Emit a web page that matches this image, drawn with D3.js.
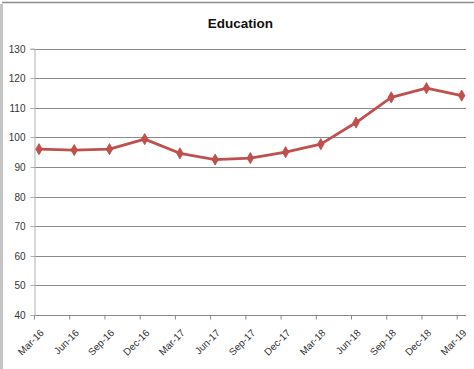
<!DOCTYPE html>
<html><head><meta charset="utf-8">
<script src="https://cdn.jsdelivr.net/npm/d3@7/dist/d3.min.js"></script>
<style>body{margin:0;background:#fff}svg{display:block}</style>
</head><body>
<svg id="c" width="474" height="369"></svg>
<script>
const categories = ["Mar-16","Jun-16","Sep-16","Dec-16","Mar-17","Jun-17","Sep-17","Dec-17","Mar-18","Jun-18","Sep-18","Dec-18","Mar-19"];
const values = [96.0, 95.7, 96.0, 99.4, 94.6, 92.5, 93.0, 95.0, 97.7, 105.0, 113.5, 116.6, 114.1];
const yTicks = [40,50,60,70,80,90,100,110,120,130];
const title = "Education";

const svg = d3.select("#c");
const font = "'Liberation Sans', Arial, sans-serif";

// frame
svg.append("rect").attr("x",0).attr("y",4).attr("width",3).attr("height",365).attr("fill","#c4c4c4");
svg.append("line").attr("x1",2).attr("x2",474).attr("y1",2.5).attr("y2",2.5).attr("stroke","#8c8c8c").attr("stroke-width",1.5);

const x = d3.scalePoint().domain(categories).range([39, 461.7]);
const y = d3.scaleLinear().domain([40,130]).range([315, 48.5]);
const left = 34, right = 466;

// gridlines
svg.append("g").selectAll("line").data(yTicks).join("line")
  .attr("x1", left).attr("x2", right)
  .attr("y1", d => Math.round(y(d))+0.5).attr("y2", d => Math.round(y(d))+0.5)
  .attr("stroke", "#8a8a8a").attr("stroke-width", 1);

// y axis
const yAxis = svg.append("g").attr("transform", `translate(${left+0.5},0)`)
  .call(d3.axisLeft(y).tickValues(yTicks).tickSize(4).tickPadding(5).tickFormat(d3.format("d")));
yAxis.select(".domain").attr("stroke","#b0b0b0");
yAxis.selectAll(".tick line").attr("stroke","#b0b0b0");
yAxis.selectAll(".tick").attr("transform", d => `translate(0,${Math.round(y(d))+0.5})`);
yAxis.selectAll("text").attr("font-family", font).attr("font-size", 10).attr("fill","#333");

// x axis
const xAxis = svg.append("g").attr("transform", `translate(-5,${Math.round(y(40))+0.5})`)
  .call(d3.axisBottom(x).tickSize(4).tickPadding(3));
xAxis.select(".domain").remove();
xAxis.selectAll(".tick line").attr("stroke","#8a8a8a");
xAxis.selectAll("text")
  .attr("font-family", font).attr("font-size", 10).attr("fill","#333")
  .attr("text-anchor","end").attr("dy", 0).attr("x", 10).attr("y", 18)
  .attr("transform","rotate(-45, 10, 18)");

// line
const line = d3.line().x((d,i) => x(categories[i])).y(d => y(d));
svg.append("path").datum(values).attr("d", line)
  .attr("fill","none").attr("stroke","#c0504d").attr("stroke-width",2.8).attr("stroke-linejoin","round");

// markers
svg.append("g").selectAll("path").data(values).join("path")
  .attr("d", d3.symbol().type(d3.symbolDiamond).size(36))
  .attr("transform", (d,i) => `translate(${x(categories[i])},${y(d)})`)
  .attr("fill","#c0504d").attr("stroke","#b94a47").attr("stroke-width",0.8);

// title
svg.append("text").attr("x", 240.5).attr("y", 28).attr("text-anchor","middle")
  .attr("font-family", font).attr("font-weight","bold").attr("font-size", 13.5).attr("fill","#111")
  .text(title);
</script>
</body></html>
